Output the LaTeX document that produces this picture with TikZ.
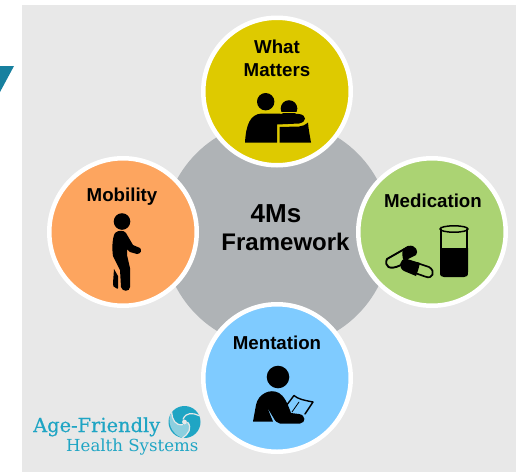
\documentclass[tikz,border=0pt]{standalone}
\usepackage{fontspec}
\setmainfont{Liberation Sans}
\newfontfamily\logofont[FakeBold=0.5]{DejaVu Serif}
\newfontfamily\logofontb{DejaVu Serif}
\definecolor{panelgray}{HTML}{E8E8E8}
\definecolor{hubgray}{HTML}{AFB3B6}
\definecolor{wmyellow}{HTML}{DECA00}
\definecolor{medgreen}{HTML}{ABD373}
\definecolor{mobor}{HTML}{FDA55F}
\definecolor{menblue}{HTML}{7FCBFF}
\definecolor{logoteal}{HTML}{1FA5C4}
\definecolor{logolight}{HTML}{8CCFDF}
\definecolor{corner}{HTML}{17809F}
\tikzset{
 x=1pt,y=-1pt,
 spoke/.style={circle,draw=white,line width=4.5pt,minimum size=147.5pt,inner sep=0pt},
 hub/.style={circle,fill=hubgray,draw=none,minimum size=228pt,inner sep=0pt},
 lab/.style={font=\bfseries\fontsize{18.7}{23}\selectfont,text=black,align=center,inner sep=0pt},
 bigt/.style={font=\bfseries\fontsize{24}{29}\selectfont,inner sep=0pt},
 ink/.style={fill=black,draw=none},
 wire/.style={draw=black,fill=none,line cap=round,line join=round},
}
\begin{document}
\begin{tikzpicture}
\useasboundingbox (0,0) rectangle (517,472);
\fill[white] (0,0) rectangle (517,472);
\fill[panelgray] (22,5) rectangle (516,472);
\fill[corner] (0,66) -- (14,66) -- (0,92) -- cycle;
\node[hub] (hub) at (277,234) {};
\node[bigt,font=\bfseries\fontsize{26}{29}\selectfont] (t1) at (276,214) {4Ms};
\node[bigt] (t2) at (285.5,242) {Framework};
\node[spoke,fill=wmyellow] (wm) at (277,91.5) {};
\node[spoke,fill=medgreen] (med) at (432,232) {};
\node[spoke,fill=mobor] (mob) at (123,232) {};
\node[spoke,fill=menblue] (men) at (277,378) {};
\node[lab] (wmt) at (277,58) {What\\Matters};
\node[lab] (medt) at (433,201) {Medication};
\node[lab] (mobt) at (122,197) {Mobility};
\node[lab] (ment) at (277,343) {Mentation};
% What Matters icon
\fill[ink] (265.7,101.7) circle (8.7);
\fill[ink] (289,108.5) circle (8.3);
\fill[wmyellow] (270,113) rectangle (304,112);
\fill[ink] (245,142.5) .. controls (246,125) and (250,114) .. (262,113.5) -- (299,114) .. controls (307,115) and (307,122) .. (299,123.5) -- (277,124.5) -- (277,142.5) -- cycle;
\fill[ink] (279.5,127) -- (299,126.5) .. controls (302,126.5) and (305,125) .. (308,122.5) .. controls (308.5,130) and (310,136) .. (311,142.5) -- (279.5,142.5) -- cycle;
% Medication icon
\fill[ink] (440,226) -- (440,272) .. controls (440,276) and (441,277) .. (444,277) -- (464,277) .. controls (467,277) and (468,276) .. (468,272) -- (468,248) -- (440,248) -- cycle;
\fill[medgreen] (441.8,229) rectangle (466.2,248);
\draw[wire,line width=1.8pt] (441,229) -- (441,272) (467,229) -- (467,272);
\draw[wire,line width=1.5pt] (454,229) ellipse (14 and 3.2);
\draw[wire,line width=1.9pt] (401,265) .. controls (389,271) and (384,266) .. (387,259) -- (408,247);
\fill[ink] (403,249) -- (408,246) .. controls (416,244) and (419,252) .. (416,255) -- (404,261) .. controls (402,258) and (402,252) .. (403,249) -- cycle;
\fill[ink] (420,263) -- (407,259) .. controls (399,258) and (398,268) .. (404,271) -- (416,276) .. controls (418,271) and (419,267) .. (420,263) -- cycle;
\draw[wire,line width=1.7pt] (417,263) -- (429,267) .. controls (436,271) and (433,280) .. (425,276.5) -- (415,273);
% Mobility icon
\fill[ink] (122,221.5) circle (8.3);
\path[ink] (115,233) .. controls (118,230) and (124,230) .. (126,233) -- (133,245) -- (140,248) .. controls (142,250) and (141,254) .. (137,254) -- (130,252) -- (127,249) -- (127,255) -- (130,268) -- (130,287) .. controls (130,292) and (122,292) .. (121,287) -- (120,270) -- (113,256) .. controls (112,250) and (112,238) .. (115,233) -- cycle;
\fill[ink] (114,269) -- (118,276) -- (118,288) .. controls (118,289) and (117,289) .. (116,288) .. controls (113,288) and (113,285) .. (113,283) -- cycle;
% Mentation icon
\fill[ink] (278,377) circle (11.3);
\fill[ink] (253,421.5) -- (256,405) .. controls (258,394) and (270,388) .. (279,393) .. controls (284,396) and (287,402) .. (291,413) -- (299,414) .. controls (306,415) and (306,423) .. (300,423.5) -- (280,423.5) .. controls (277,423) and (275,421) .. (273,417) -- (267,407) -- (273,421.5) -- cycle;
\draw[wire,line width=1.4pt] (286,406) -- (294,395.5) .. controls (298,399) and (303,400) .. (313,402) -- (305,414);
\draw[wire,line width=0.8pt] (299,402) -- (292,412);
% Logo
\node[font=\logofont\fontsize{19.4}{20}\selectfont,text=logoteal,anchor=base west,inner sep=0pt] (l1) at (33,432) {Age-Friendly};
\node[font=\logofontb\fontsize{16.6}{20}\selectfont,text=logoteal,anchor=base west,inner sep=0pt] (l2) at (66,451) {Health Systems};
\begin{scope}[shift={(184.5,422)}]
\fill[logoteal] (0,0) circle (16);
\fill[logolight] (-1.5,2.6) .. controls (-9.2,3.9) and (-12.4,-2.5) .. (-12.9,-9.7) .. controls (-18,-2) and (-14,12) .. (-2,16) .. controls (4,12) and (8,6) .. (3,0) -- cycle;
\foreach \a in {30,150,270}{
 \draw[panelgray,line width=1.2pt,rotate=\a] (0,-3) .. controls (6,-8) and (12,-4) .. (16,2);
}
\fill[panelgray] (0,0) circle (2.4);
\end{scope}
\end{tikzpicture}
\end{document}
